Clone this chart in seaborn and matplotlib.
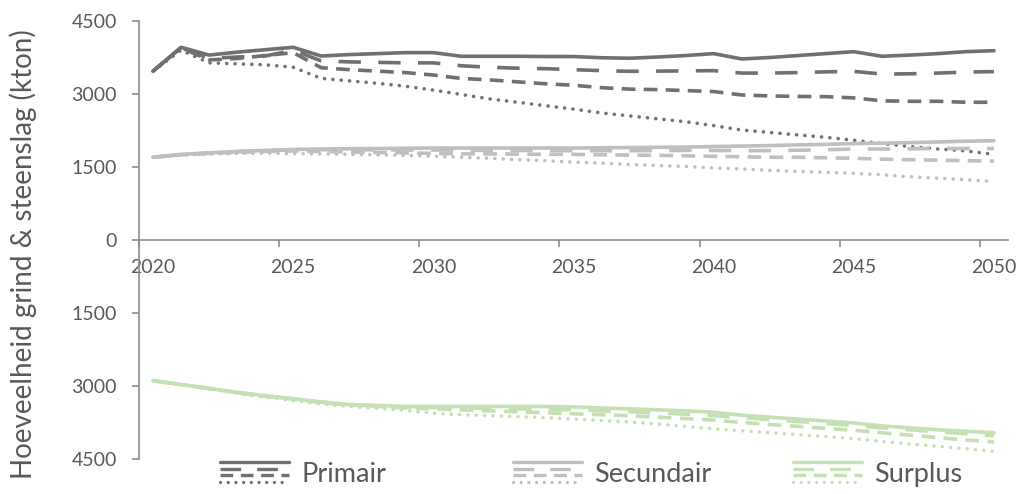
import numpy as np
import pandas as pd
import seaborn as sns
import matplotlib
matplotlib.use("Agg")
import matplotlib.pyplot as plt
from matplotlib.lines import Line2D
from matplotlib.legend_handler import HandlerBase
from matplotlib.ticker import FuncFormatter

# ---------------------------------------------------------------- data (kton)
years = list(range(2020, 2051))

primair_1 = [3470, 3960, 3800, 3860, 3910, 3960, 3780, 3810, 3830, 3850, 3850,
             3775, 3775, 3775, 3770, 3770, 3745, 3735, 3760, 3790, 3830,
             3720, 3750, 3790, 3830, 3870, 3775, 3800, 3830, 3870, 3890]
primair_2 = [3470, 3950, 3730, 3760, 3780, 3900, 3680, 3660, 3650, 3640, 3640,
             3580, 3550, 3530, 3520, 3500, 3480, 3466, 3470, 3475, 3480,
             3430, 3430, 3440, 3455, 3465, 3410, 3415, 3430, 3450, 3460]
primair_3 = [3470, 3950, 3700, 3730, 3790, 3850, 3540, 3500, 3470, 3440, 3390,
             3320, 3290, 3250, 3210, 3180, 3130, 3100, 3090, 3070, 3050,
             2980, 2960, 2950, 2945, 2920, 2860, 2850, 2850, 2830, 2830]
primair_4 = [3470, 3900, 3640, 3620, 3600, 3550, 3320, 3270, 3220, 3160, 3080,
             2990, 2900, 2830, 2760, 2690, 2610, 2550, 2490, 2430, 2350,
             2260, 2210, 2160, 2110, 2050, 1980, 1920, 1870, 1830, 1760]

secundair_1 = [1700, 1760, 1790, 1820, 1840, 1860, 1870, 1875, 1880, 1885, 1890,
               1890, 1890, 1890, 1890, 1890, 1895, 1900, 1905, 1910, 1920,
               1930, 1940, 1955, 1965, 1980, 1990, 2000, 2015, 2030, 2040]
secundair_2 = [1700, 1755, 1785, 1815, 1835, 1855, 1855, 1855, 1855, 1850, 1850,
               1845, 1840, 1840, 1840, 1835, 1835, 1835, 1838, 1840, 1840,
               1836, 1836, 1845, 1855, 1870, 1870, 1875, 1880, 1880, 1880]
secundair_3 = [1700, 1750, 1780, 1800, 1820, 1830, 1820, 1810, 1800, 1790, 1780,
               1770, 1770, 1765, 1760, 1760, 1750, 1745, 1740, 1730, 1720,
               1710, 1700, 1700, 1690, 1680, 1660, 1650, 1640, 1630, 1620]
secundair_4 = [1700, 1745, 1765, 1780, 1785, 1775, 1770, 1760, 1750, 1740, 1720,
               1700, 1680, 1650, 1630, 1600, 1580, 1550, 1530, 1510, 1480,
               1460, 1430, 1410, 1390, 1370, 1340, 1300, 1270, 1240, 1200]

surplus_1 = [-2890, -2970, -3050, -3130, -3200, -3260, -3330, -3380, -3400, -3420, -3420,
             -3420, -3420, -3420, -3420, -3430, -3450, -3470, -3490, -3510, -3540,
             -3600, -3640, -3680, -3720, -3760, -3820, -3860, -3900, -3930, -3960]
surplus_2 = [-2890, -2970, -3050, -3135, -3205, -3265, -3330, -3380, -3410, -3430, -3440,
             -3450, -3460, -3470, -3480, -3490, -3510, -3530, -3550, -3580, -3610,
             -3650, -3690, -3730, -3770, -3810, -3860, -3900, -3940, -3980, -4020]
surplus_3 = [-2890, -2970, -3050, -3140, -3210, -3270, -3340, -3390, -3420, -3450, -3470,
             -3490, -3510, -3530, -3550, -3570, -3590, -3610, -3640, -3670, -3700,
             -3750, -3790, -3830, -3870, -3910, -3960, -4010, -4060, -4110, -4150]
surplus_4 = [-2890, -2970, -3060, -3150, -3230, -3300, -3370, -3420, -3460, -3500, -3560,
             -3590, -3610, -3630, -3650, -3680, -3710, -3740, -3780, -3830, -3880,
             -3920, -3960, -4000, -4040, -4080, -4140, -4190, -4240, -4290, -4340]

groups = ["Primair", "Secundair", "Surplus"]
series = {
    "Primair": [primair_1, primair_2, primair_3, primair_4],
    "Secundair": [secundair_1, secundair_2, secundair_3, secundair_4],
    "Surplus": [surplus_1, surplus_2, surplus_3, surplus_4],
}
y_ticks = [-4500, -3000, -1500, 0, 1500, 3000, 4500]
x_label_years = [2020, 2025, 2030, 2035, 2040, 2045, 2050]
y_title = "Hoeveelheid grind & steenslag (kton)"

# ---------------------------------------------------------------- styling
colors = {"Primair": "#707070", "Secundair": "#BFBFBF", "Surplus": "#C5E0B4"}
text_color = "#595959"
axis_color = "#8C8C8C"
LW = 2.6
# solid, long dash, dash, round dot
line_styles = [
    dict(linestyle="-", solid_capstyle="round"),
    dict(linestyle=(0, (6.2, 4.8)), dash_capstyle="butt"),
    dict(linestyle=(0, (3.8, 2.3)), dash_capstyle="butt"),
    dict(linestyle=(0, (0.01, 2.3)), dash_capstyle="round"),
]

sns.set_theme(style="white")
plt.rcParams["font.family"] = ["Lato", "DejaVu Sans"]

fig = plt.figure(figsize=(10.24, 4.94), dpi=100)
ax = fig.add_axes([139 / 1024, 1 - 459 / 494, 869 / 1024, 438 / 494])

rows = []
for g in groups:
    for k, vals in enumerate(series[g]):
        for yr, v in zip(years, vals):
            rows.append({"year": yr, "value": v, "group": g, "variant": k})
df = pd.DataFrame(rows)

# dotted first, solid on top
for g in groups:
    for k in [3, 2, 1, 0]:
        sub = df[(df["group"] == g) & (df["variant"] == k)]
        sns.lineplot(data=sub, x="year", y="value", ax=ax, color=colors[g],
                     lw=LW, legend=False, **line_styles[k])

# ---------------------------------------------------------------- axes
ax.set_xlim(2019.5, 2050.5)
ax.set_ylim(-4500, 4500)
ax.set_xlabel("")
ax.set_ylabel(y_title, fontsize=20, color=text_color)
ax.yaxis.set_label_coords(-0.117, 0.468)

for side in ["top", "right"]:
    ax.spines[side].set_visible(False)
ax.spines["left"].set_color(axis_color)
ax.spines["left"].set_linewidth(1.2)
ax.spines["bottom"].set_position(("data", 0))
ax.spines["bottom"].set_color(axis_color)
ax.spines["bottom"].set_linewidth(1.2)

ax.set_yticks(y_ticks)
ax.yaxis.set_major_formatter(FuncFormatter(lambda v, p: f"{abs(v):.0f}"))
ax.tick_params(axis="y", which="major", left=True, length=5, width=1.2,
               color=axis_color, labelcolor=text_color, labelsize=14, pad=11)

ax.set_xticks(x_label_years)
ax.set_xticklabels([str(y) for y in x_label_years])
ax.set_xticks([y - 0.5 for y in x_label_years], minor=True)
ax.tick_params(axis="x", which="major", bottom=True, length=0,
               labelcolor=text_color, labelsize=14, pad=14)
ax.tick_params(axis="x", which="minor", bottom=True, length=5, width=1.2,
               color=axis_color)
ax.grid(False)


# ---------------------------------------------------------------- legend
class StackedLinesHandler(HandlerBase):
    """Legend key showing the four line variants of one group stacked."""

    def __init__(self, color):
        super().__init__()
        self.color = color

    def create_artists(self, legend, orig_handle, xdescent, ydescent,
                       width, height, fontsize, trans):
        artists = []
        n = len(line_styles)
        for i, st in enumerate(line_styles):
            y = height - ydescent - i * height / (n - 1)
            ln = Line2D([-xdescent, width - xdescent], [y, y], color=self.color,
                        lw=2.4, transform=trans, **st)
            artists.append(ln)
        return artists


legend_x = {"Primair": 220 / 1024, "Secundair": 513 / 1024, "Surplus": 793 / 1024}
for g in groups:
    h = Line2D([], [], color=colors[g])
    leg = fig.legend(handles=[h], labels=[g], loc="center left",
                     bbox_to_anchor=(legend_x[g], 1 - 474 / 494),
                     handler_map={h: StackedLinesHandler(colors[g])},
                     frameon=False, fontsize=19.5, borderpad=0, borderaxespad=0,
                     handlelength=2.55, handleheight=0.75, handletextpad=0.45)
    for t in leg.get_texts():
        t.set_color(text_color)

fig.savefig("out.png", dpi=100)
